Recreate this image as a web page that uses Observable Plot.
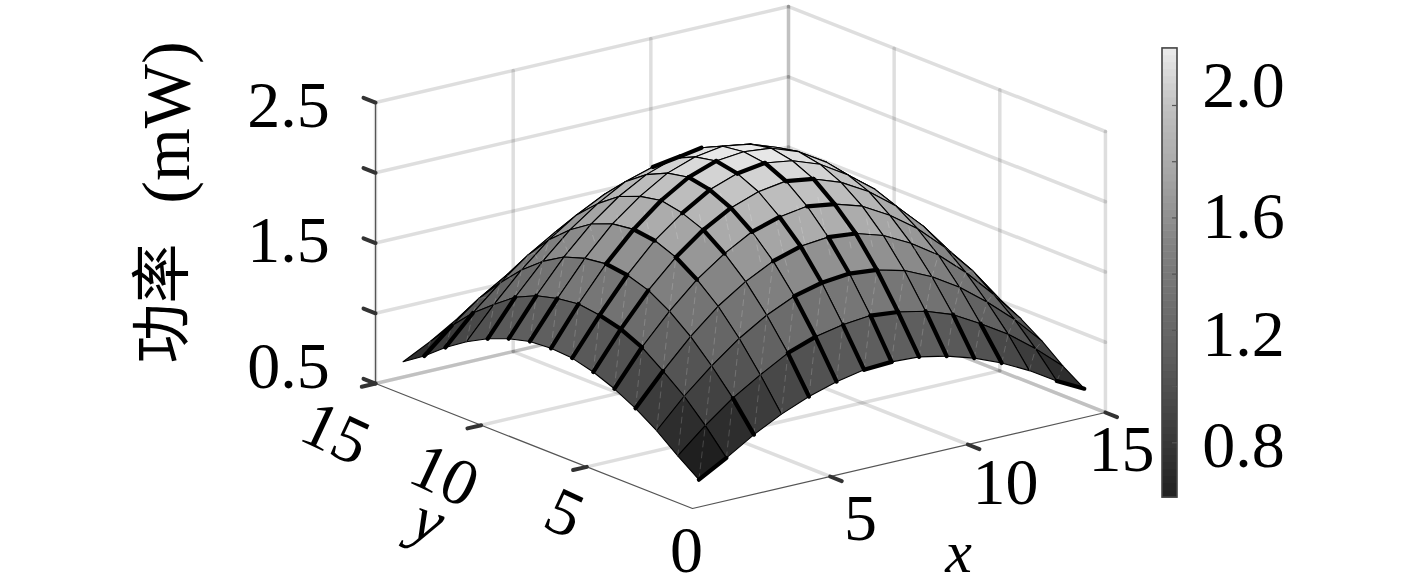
<!DOCTYPE html>
<html><head><meta charset="utf-8">
<script src="https://cdn.jsdelivr.net/npm/d3@7"></script>
<script src="https://cdn.jsdelivr.net/npm/@observablehq/plot@0.6"></script>
<style>html,body{margin:0;padding:0;background:#fff}svg{display:block}</style>
</head><body><div id="chart"></div>
<script>
// grid coordinates
const xValues = [1,2,3,4,5,6,7,8,9,10,11,12,13,14,15];
const yValues = [1,2,3,4,5,6,7,8,9,10,11,12,13,14,15];
// power (mW), one row per y
const powerY1  = [0.60,0.71,0.83,0.93,1.01,1.07,1.11,1.12,1.11,1.07,1.01,0.93,0.83,0.71,0.61];
const powerY2  = [0.71,0.88,1.03,1.15,1.26,1.33,1.37,1.39,1.37,1.33,1.26,1.15,1.03,0.88,0.71];
const powerY3  = [0.83,1.03,1.20,1.35,1.47,1.56,1.61,1.63,1.61,1.56,1.47,1.35,1.20,1.03,0.83];
const powerY4  = [0.93,1.15,1.35,1.52,1.65,1.75,1.81,1.83,1.81,1.75,1.65,1.52,1.35,1.15,0.93];
const powerY5  = [1.01,1.26,1.47,1.65,1.79,1.90,1.96,1.99,1.96,1.90,1.79,1.65,1.47,1.26,1.01];
const powerY6  = [1.07,1.33,1.56,1.75,1.90,2.01,2.08,2.11,2.08,2.01,1.90,1.75,1.56,1.33,1.07];
const powerY7  = [1.11,1.37,1.61,1.81,1.96,2.08,2.15,2.18,2.15,2.08,1.96,1.81,1.61,1.37,1.11];
const powerY8  = [1.12,1.39,1.63,1.83,1.99,2.11,2.18,2.20,2.18,2.11,1.99,1.83,1.63,1.39,1.12];
const powerY9  = [1.11,1.37,1.61,1.81,1.96,2.08,2.15,2.18,2.15,2.08,1.96,1.81,1.61,1.37,1.11];
const powerY10 = [1.07,1.33,1.56,1.75,1.90,2.01,2.08,2.11,2.08,2.01,1.90,1.75,1.56,1.33,1.07];
const powerY11 = [1.01,1.26,1.47,1.65,1.79,1.90,1.96,1.99,1.96,1.90,1.79,1.65,1.47,1.26,1.01];
const powerY12 = [0.93,1.15,1.35,1.52,1.65,1.75,1.81,1.83,1.81,1.75,1.65,1.52,1.35,1.15,0.93];
const powerY13 = [0.83,1.03,1.20,1.35,1.47,1.56,1.61,1.63,1.61,1.56,1.47,1.35,1.20,1.03,0.83];
const powerY14 = [0.71,0.88,1.03,1.15,1.26,1.33,1.37,1.39,1.37,1.33,1.26,1.15,1.03,0.88,0.71];
const powerY15 = [0.61,0.71,0.83,0.93,1.01,1.07,1.11,1.12,1.11,1.07,1.01,0.93,0.83,0.71,0.61];
const powerRows = [powerY1,powerY2,powerY3,powerY4,powerY5,powerY6,powerY7,powerY8,powerY9,powerY10,powerY11,powerY12,powerY13,powerY14,powerY15];

// highlighted cell borders: [fixed y, x start] runs along x; [fixed x, y start] runs along y
const heavyAlongX = [[4,1],[5,1],[6,1],[7,1],[8,1],[9,1],[10,1],[11,1],[13,1],[14,1],[6,2],[7,2],[7,5],[8,3],[8,4],[8,5],[8,6],[7,7],[6,8],[6,5],[6,4],[5,6],[5,8],[4,8],[4,6],[3,6],[3,7],[3,8],[2,5],[2,8],[1,1],[1,7],[1,14],[11,7]];
const heavyAlongY = [[2,5],[2,6],[3,1],[5,1],[6,1],[7,1],[8,1],[9,1],[10,1],[11,1],[12,1],[6,2],[9,2],[9,3],[9,4],[9,5],[8,6],[7,7],[3,7],[4,7],[6,7],[6,6],[6,5],[5,5],[4,5],[7,3],[7,4],[8,3],[8,10]];

const xTicks = [5,10,15];
const yTicks = [5,10,15];
const zTicks = [0.5,1,1.5,2,2.5];
const barTicks = [0.8,1.0,1.2,1.4,1.6,1.8,2.0];
const barMin = 0.605, barMax = 2.203;
// grey at these powers
const greyStops = [0.605,1.12,1.5,1.75,2.0,2.203];
const greyLevels = ["#202020","#5f5f5f","#828282","#a5a5a5","#c2c2c2","#ececec"];

// 3-D view of the axes box
const project = (x,y,z) => [692 + 27.53*x - 21.13*y, 508 - 6.4*x - 8.33*y - 140.5*(z-0.5)];
const barY = d3.scaleLinear().domain([0.8,2.0]).range([442.3,105]);

const segment = (pts,id) => pts.map(p => { const [sx,sy] = project(...p); return {sx,sy,id}; });
const poly = (list) => list.flatMap((pts,i) => segment(pts,i));

// surface cells, far to near
const cells = [];
for (let j = 13; j >= 0; j--) for (let i = 13; i >= 0; i--) {
  const corners = [[i,j],[i+1,j],[i+1,j+1],[i,j+1],[i,j]];
  corners.forEach(([a,b]) => { const [sx,sy] = project(xValues[a],yValues[b],powerRows[b][a]);
    cells.push({sx,sy,id:`${i}-${j}`,v:powerRows[j][i]}); });
}
const seams = poly(d3.cross(d3.range(14),d3.range(14)).filter(([i,j]) => powerRows[j][i] < 1.5).map(([i,j]) => [
  [xValues[i],yValues[j],powerRows[j][i]],[xValues[i+1],yValues[j+1],powerRows[j+1][i+1]]]));
const heavy = poly([
  ...heavyAlongX.map(([y,x]) => [[x,y,powerRows[y-1][x-1]],[x+1,y,powerRows[y-1][x]]]),
  ...heavyAlongY.map(([x,y]) => [[x,y,powerRows[y-1][x-1]],[x,y+1,powerRows[y][x-1]]])
]);

// box grid
const grid = poly([
  ...zTicks.flatMap(z => [[[0,15,z],[15,15,z]],[[15,15,z],[15,0,z]]]),
  ...[0,...xTicks].map(x => [[x,15,0.5],[x,15,2.5]]),
  ...[...yTicks].map(y => [[15,y,0.5],[15,y,2.5]]),
  [[15,0,0.5],[15,0,2.5]],
  ...xTicks.map(x => [[x,0,0.5],[x,15,0.5]]),
  ...yTicks.map(y => [[0,y,0.5],[15,y,0.5]])
]);
const axisLines = poly([[[0,15,2.5],[0,15,0.5],[0,0,0.5],[15,0,0.5]]]);
const tickMarks = poly([
  ...xTicks.map(x => [[x,0,0.5],[x,-0.55,0.5]]),
  ...yTicks.map(y => [[0,y,0.5],[-0.5,y,0.5]]),
  ...zTicks.map(z => [[0,15,z],[0,15.57,z]])
]);

const levels = d3.range(64).map(k => barMin + (k+0.5)*(barMax-barMin)/64);
const levelH = (barMax-barMin)/64;
const serif = "'Liberation Serif','Noto Sans CJK SC',serif";
const label = (text,sx,sy,extra={}) => Plot.text([text],{x:()=>sx,y:()=>sy,text:d=>d,fontFamily:serif,fontSize:66,fill:"#000",textAnchor:"middle",lineAnchor:"middle",...extra});

const chart = Plot.plot({
  width:1417,height:586,marginTop:0,marginRight:0,marginBottom:0,marginLeft:0,
  style:{background:"#fff",overflow:"visible"},
  x:{domain:[0,1417],range:[0,1417],axis:null},
  y:{domain:[0,586],range:[0,586],axis:null},
  color:{type:"linear",domain:greyStops,range:greyLevels,interpolate:"rgb"},
  marks:[
    Plot.line(grid,{x:"sx",y:"sy",z:"id",stroke:"#000",strokeOpacity:0.13,strokeWidth:3.5}),
    Plot.line(axisLines,{x:"sx",y:"sy",z:"id",stroke:"#555",strokeWidth:1.2}),
    Plot.line(tickMarks,{x:"sx",y:"sy",z:"id",stroke:"#333",strokeWidth:4}),
    Plot.line(cells,{x:"sx",y:"sy",z:"id",fill:"v",stroke:"#000",strokeWidth:1.1,strokeLinejoin:"round"}),
    Plot.line(seams,{x:"sx",y:"sy",z:"id",stroke:"#fff",strokeOpacity:0.2,strokeWidth:0.9,strokeDasharray:"6 5"}),
    Plot.line(heavy,{x:"sx",y:"sy",z:"id",stroke:"#000",strokeWidth:4.2,strokeLinecap:"round"}),
    // colour bar
    Plot.rect(levels,{x1:()=>1162,x2:()=>1177,y1:d=>barY(d-levelH/2-0.001),y2:d=>barY(d+levelH/2+0.001),fill:d=>d}),
    Plot.rect([0],{x1:()=>1162,x2:()=>1177,y1:()=>barY(barMin),y2:()=>barY(barMax),fill:"none",stroke:"#444",strokeWidth:1.6}),
    Plot.ruleY(barTicks,{y:d=>barY(d),x1:()=>1172,x2:()=>1177,stroke:"#555",strokeWidth:1.2}),
    // tick labels
    label("2.5",288,105), label("1.5",288,240), label("0.5",288,366),
    label("0",686,550), label("5",860,518), label("10",1005,482), label("15",1121,449),
    label("5",564,513,{rotate:25}), label("10",444,475,{rotate:25}), label("15",335,433,{rotate:25}),
    label("x",958,552,{fontStyle:"italic",fontSize:60}), label("y",428,520,{fontStyle:"italic",rotate:20,fontSize:64}),
    label("2.0",1243,85), label("1.6",1243,216), label("1.2",1243,334), label("0.8",1243,445),
    label("功率",163,303,{rotate:-90,fontSize:60}), label("(mW)",167,122,{rotate:-90,fontSize:68})
  ]
});
document.getElementById("chart").append(chart);
</script></body></html>
